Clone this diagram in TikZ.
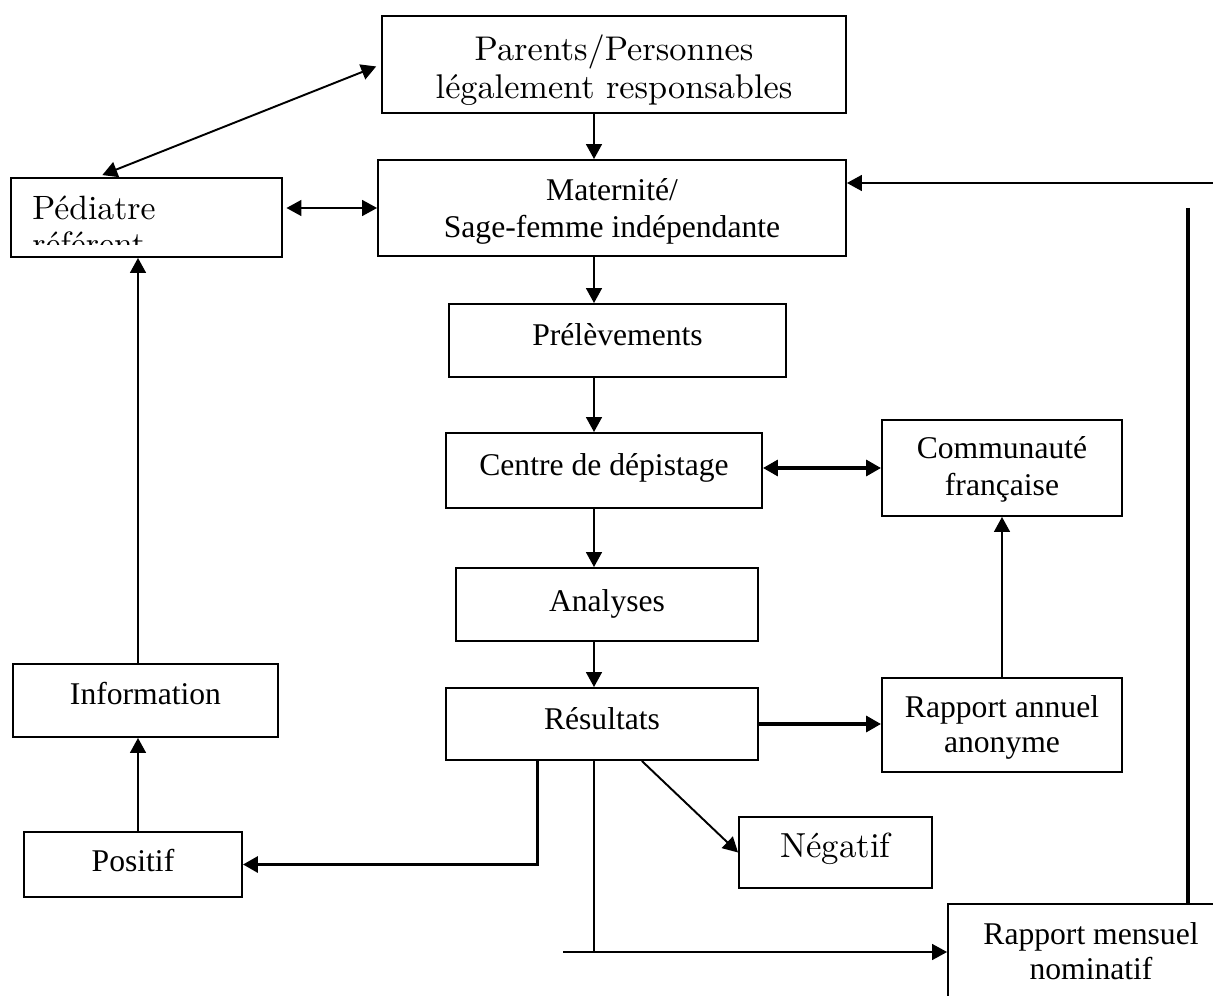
\documentclass[tikz,border=0pt]{standalone}
\usepackage{fontspec}
\newfontfamily\tnr{Liberation Serif}
\newfontfamily\lmr{lmroman10-regular}[Extension=.otf]
\usetikzlibrary{arrows.meta,calc}
\tikzset{
  blk/.style={draw, line width=1.1pt, inner sep=0pt, align=center, font=\tnr\fontsize{18}{21}\selectfont},
  one/.style={text depth=5pt, text height=#1},
  arr/.style={line width=1.1pt, -{Triangle[length=8.5pt,width=9pt]}},
  darr/.style={line width=1.1pt, {Triangle[length=8.5pt,width=9pt]}-{Triangle[length=8.5pt,width=9pt]}},
  thk/.style={line width=2pt},
  lmtext/.style={font=\lmr\fontsize{19.5}{21.5}\selectfont},
}
\begin{document}
\begin{tikzpicture}[x=0.02cm,y=-0.02cm]
\useasboundingbox (0,0) rectangle (1213,996);
\clip (0,0) rectangle (1213,996);
% boxes
\node[blk, minimum width=9.28cm, minimum height=1.94cm, lmtext, one=44pt] (par) at (614,64.5) {Parents/Personnes\\légalement responsables};
\node[blk, minimum width=9.36cm, minimum height=1.92cm, one=38.5pt] (mat) at (612,208) {Maternité/\\Sage-femme indépendante};
\node[blk, minimum width=5.42cm, minimum height=1.58cm] (ped) at (146.5,217.5) {};
\begin{scope}
  \clip (11,178) rectangle (282,245);
  \node[anchor=base west, inner sep=0pt, font=\lmr\fontsize{19.2}{21}\selectfont] (pedt) at (32,220) {Pédiatre};
  \node[anchor=base west, inner sep=0pt, font=\lmr\fontsize{19.2}{21}\selectfont] (pedr) at (32,256) {référent};
\end{scope}
\node[blk, minimum width=6.74cm, minimum height=1.46cm, one=11.2pt] (pre) at (617.5,340.5) {Prélèvements};
\node[blk, minimum width=6.32cm, minimum height=1.5cm, one=11.2pt] (cen) at (604,470.5) {Centre de dépistage};
\node[blk, minimum width=6.04cm, minimum height=1.46cm, one=12.4pt] (ana) at (607,604.5) {Analyses};
\node[blk, minimum width=6.24cm, minimum height=1.44cm, one=11.8pt] (res) at (602,724) {Résultats};
\node[blk, minimum width=4.8cm, minimum height=1.92cm, one=36.7pt] (com) at (1002,468) {Communauté\\française};
\node[blk, minimum width=4.8cm, minimum height=1.88cm, one=36.7pt, font=\tnr\fontsize{18}{20}\selectfont] (ann) at (1002,725) {Rapport annuel\\anonyme};
\node[blk, minimum width=5.3cm, minimum height=1.46cm, one=10pt] (inf) at (145.5,700.5) {Information};
\node[blk, minimum width=4.36cm, minimum height=1.3cm, one=12.4pt] (pos) at (133,864.5) {Positif};
\node[blk, minimum width=3.86cm, minimum height=1.42cm, one=11.2pt, font=\lmr\fontsize{19.8}{22}\selectfont] (neg) at (835.5,852.5) {Négatif};
\node[blk, minimum width=5.72cm, minimum height=1.92cm, one=36.7pt, font=\tnr\fontsize{18}{20}\selectfont] (men) at (1091,952) {Rapport mensuel\\nominatif};
% helper coordinates
\coordinate (sp) at (594,0);
\coordinate (lsp) at (138,0);
\coordinate (tl) at (563,952);
\coordinate (vt) at (1188,208);
\coordinate (ri) at (1213,183);
% connectors
\draw[arr] (par.south -| sp) -- (mat.north -| sp);
\draw[arr] (mat.south -| sp) -- (pre.north -| sp);
\draw[arr] (pre.south -| sp) -- (cen.north -| sp);
\draw[arr] (cen.south -| sp) -- (ana.north -| sp);
\draw[arr] (ana.south -| sp) -- (res.north -| sp);
\draw[darr, shorten <=2pt] (mat.west -| ped.east) -- (mat.west);
\draw[darr, shorten <=3pt, shorten >=3pt] ($(ped.north west)!0.32!(ped.north east)$) -- (par.west);
\draw[darr, thk] (com.west -| cen.east) -- (com.west);
\draw[arr, thk] (res.east) -- (res.east -| ann.west);
\draw[arr] (ann.north) -- (com.south);
\draw[arr] ($(res.south west)!0.627!(res.south east)$) -- (neg.west);
\draw[arr, thk] ($(res.south west)!0.295!(res.south east)$) |- (pos.east);
\draw[line width=1.1pt] (res.south -| sp) -- (sp |- men.west);
\draw[arr] (tl) -- (men.west);
\draw[thk] (vt) -- (vt |- men.north);
\draw[arr] (ri) -- (ri -| mat.east);
\draw[arr] (pos.north -| lsp) -- (inf.south -| lsp);
\draw[arr] (inf.north -| lsp) -- (ped.south -| lsp);
\end{tikzpicture}
\end{document}
